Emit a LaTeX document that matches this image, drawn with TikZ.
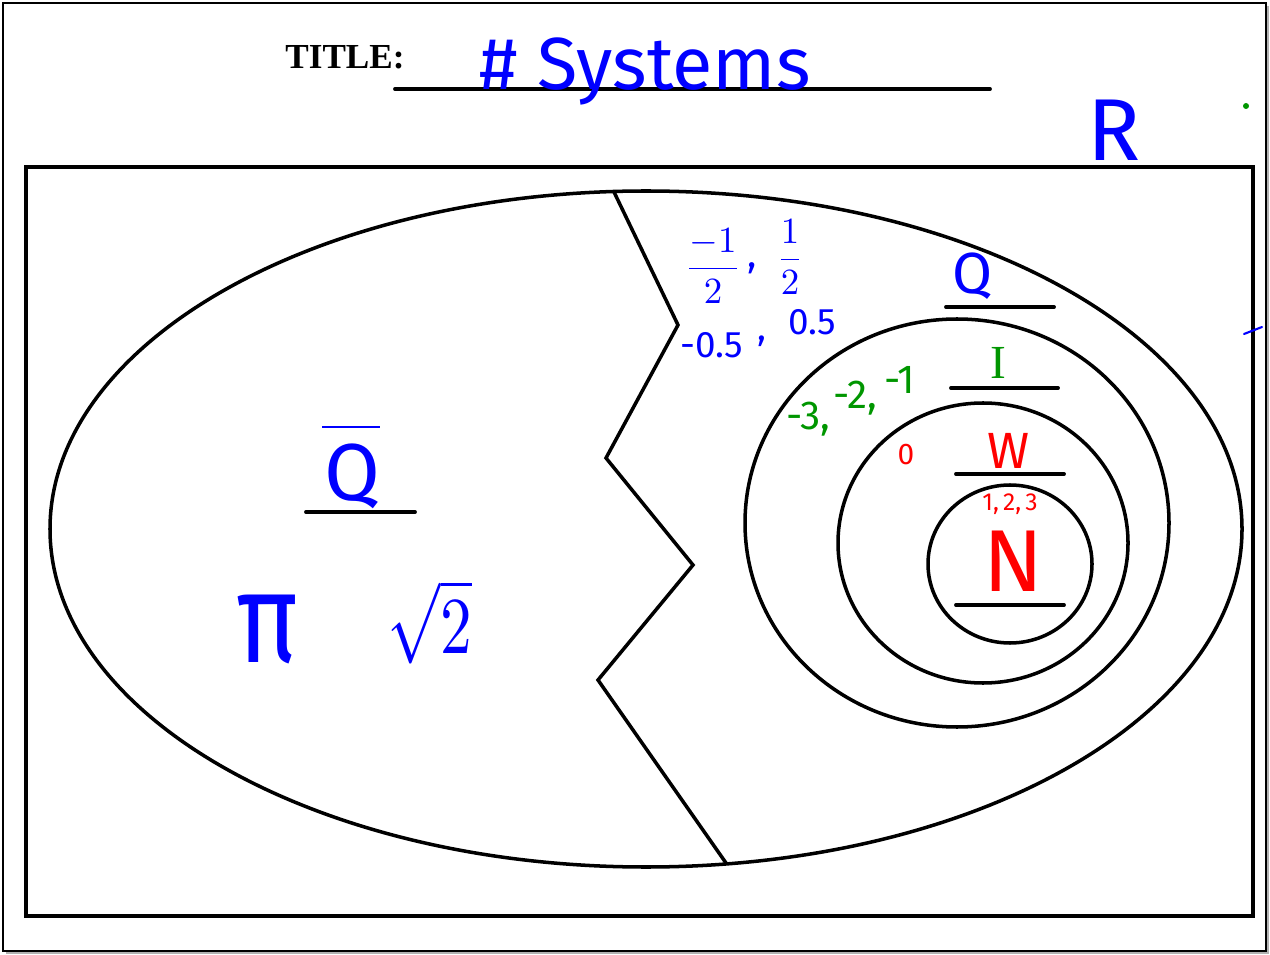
\documentclass[tikz,border=0pt]{standalone}
\usepackage{fontspec}
\setmainfont{Liberation Serif}
\newfontfamily\handfont{Fira Sans}
\usepackage{xcolor}
\usetikzlibrary{positioning}
\definecolor{inkblue}{RGB}{0,0,255}
\definecolor{inkgreen}{RGB}{0,150,0}
\definecolor{inkred}{RGB}{255,0,0}
\newcommand{\inksize}[1]{\fontsize{#1}{#1}\selectfont}

\begin{document}
\begin{tikzpicture}[
  x=0.02cm, y=-0.02cm,
  ring/.style={line width=2pt},
  rule/.style={line width=2.2pt, line cap=round},
  bluepen/.style={text=inkblue, inner sep=0pt},
  greenpen/.style={text=inkgreen, inner sep=0pt},
  redpen/.style={text=inkred, inner sep=0pt}
]
  \useasboundingbox (0,0) rectangle (1270,955);
  \draw[gray!60, line width=1.5pt] (6,953) -- (1268,953) -- (1268,6);
  \draw[line width=0.6pt] (3,3) rectangle (1266,951);
  \draw[line width=2.8pt] (26,167) rectangle (1253,916);

  \node[font=\bfseries\inksize{20}, inner sep=0pt] (titlelabel) at (345,57) {TITLE:};
  \draw[rule] (395,89) -- (990,89);
  \node[bluepen, font=\handfont\inksize{42}] (titletext) at (645,72) {\# Systems};
  \node[bluepen, font=\handfont\inksize{50}] (reals) at (1114,130) {R};
  \fill[inkgreen] (1246,106) circle [radius=3];
  \draw[inkblue, line width=1.2pt, line cap=round] (1244,334) -- (1262,327);

  \draw[ring] (646,529) ellipse [x radius=596, y radius=338];
  \draw[ring] (614,192) -- (678,325) -- (606,458) -- (693,565) -- (598,680) -- (726,863);
  \draw[ring] (957,523) ellipse [x radius=212, y radius=204];
  \draw[ring] (983,543) ellipse [x radius=145, y radius=140];
  \draw[ring] (1010,564) ellipse [x radius=82, y radius=79];

  \node[bluepen, font=\handfont\inksize{46}] (irrlabel) at (352,476) {Q};
  \draw[inkblue, line width=1.4pt] (322,427) -- (380,427);
  \draw[rule] (306,512) -- (415,512);
  \node[bluepen, font=\handfont\inksize{54}] (piconst) at (268,630) {\scalebox{1.1}[1.35]{π}};
  \node[bluepen] (roottwo) at (430,622) {\scalebox{3.6}[4.6]{$\sqrt{2}$}};

  \node[bluepen] (halfneg) at (713,266) {\scalebox{2.1}{$\displaystyle\frac{-1}{2}$}};
  \node[bluepen, font=\handfont\inksize{22}] (halfcomma) at (752,268) {,};
  \node[bluepen] (halfpos) at (790,257) {\scalebox{2.1}{$\displaystyle\frac{1}{2}$}};
  \node[bluepen, font=\handfont\inksize{21}] (negdecimal) at (712,345) {-0.5};
  \node[bluepen, font=\handfont\inksize{21}] (deccomma) at (762,341) {,};
  \node[bluepen, font=\handfont\inksize{21}] (posdecimal) at (812,322) {0.5};

  \node[bluepen, font=\handfont\inksize{33}] (ratlabel) at (973,276) {Q};
  \draw[rule] (946,307) -- (1054,307);
  \node[greenpen, font=\handfont\inksize{23}] (negthree) at (808,419) {-3,};
  \node[greenpen, font=\handfont\inksize{23}] (negtwo) at (855,398) {-2,};
  \node[greenpen, font=\handfont\inksize{23}] (negone) at (900,380) {-1};
  \node[greenpen, font=\rmfamily\inksize{27}] (intlabel) at (998,363) {I};
  \draw[rule] (951,388) -- (1058,388);
  \node[redpen, font=\handfont\inksize{17}] (zero) at (906,455) {0};
  \node[redpen, font=\handfont\inksize{29}] (wholelabel) at (1009,451) {W};
  \draw[rule] (956,474) -- (1064,474);
  \node[redpen, font=\handfont\inksize{14}, text depth=0pt, anchor=base] (natdigits) at (1010,511) {1,\,2,\,3};
  \node[redpen, font=\handfont\inksize{50}, text height=0.7em, anchor=base] (natlabel) at (1013,591) {N};
  \draw[rule] (956,605) -- (1064,605);
\end{tikzpicture}
\end{document}
